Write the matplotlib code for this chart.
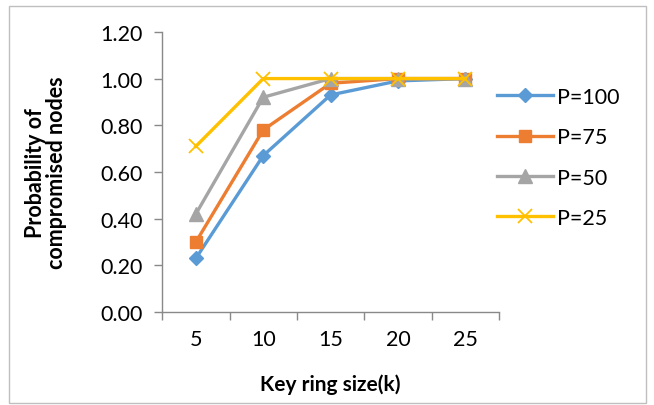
import numpy as np
import matplotlib.pyplot as plt
from matplotlib.patches import Rectangle

key_ring = ['5', '10', '15', '20', '25']
p100 = [0.23, 0.67, 0.93, 0.99, 1.00]
p75 = [0.30, 0.78, 0.98, 1.00, 1.00]
p50 = [0.42, 0.92, 1.00, 1.00, 1.00]
p25 = [0.71, 1.00, 1.00, 1.00, 1.00]

plt.rcParams['font.family'] = ['Lato', 'DejaVu Sans']

fig = plt.figure(figsize=(6.54, 4.06), dpi=100)
ax = fig.add_axes([0.248, 0.229, 0.515, 0.690])

x = np.arange(len(key_ring))
lw = 2.4
ax.plot(x, p100, color='#5B9BD5', lw=lw, marker='D', ms=7, label='P=100')
ax.plot(x, p75, color='#ED7D31', lw=lw, marker='s', ms=9, label='P=75')
ax.plot(x, p50, color='#A5A5A5', lw=lw, marker='^', ms=10, label='P=50')
ax.plot(x, p25, color='#FFC000', lw=lw, marker='x', ms=10, mew=1.3, label='P=25')

ax.set_xlim(-0.5, 4.5)
ax.set_ylim(0, 1.2)
ax.set_yticks(np.arange(0, 1.21, 0.2))
ax.set_yticklabels([f'{v:.2f}' for v in np.arange(0, 1.21, 0.2)])
ax.set_xticks(x)
ax.set_xticklabels(key_ring)
ax.set_xticks(np.arange(-0.5, 4.6, 1), minor=True)
ax.tick_params(axis='x', which='major', length=0, pad=12)
ax.tick_params(axis='x', which='minor', length=6, color='#898989', width=1)
ax.tick_params(axis='y', length=6, color='#898989', width=1, pad=8)
ax.tick_params(labelsize=15.5)

for s in ['top', 'right']:
    ax.spines[s].set_visible(False)
for s in ['left', 'bottom']:
    ax.spines[s].set_color('#898989')
    ax.spines[s].set_linewidth(1)

ax.set_ylabel('Probability of\ncompromised nodes', fontsize=15.5, fontweight='bold',
              labelpad=24, linespacing=1.0)
ax.set_xlabel('Key ring size(k)', fontsize=15, fontweight='bold', labelpad=18)

fig.legend(loc='center left', bbox_to_anchor=(0.73, 0.61), frameon=False,
           fontsize=15.5, handlelength=2.6, labelspacing=0.95, handletextpad=0.2)

fig.patches.append(Rectangle((0.013, 0.005), 0.975, 0.978, transform=fig.transFigure,
                             fill=False, edgecolor='#BFBFBF', lw=1))

fig.savefig('out.png', dpi=100)
